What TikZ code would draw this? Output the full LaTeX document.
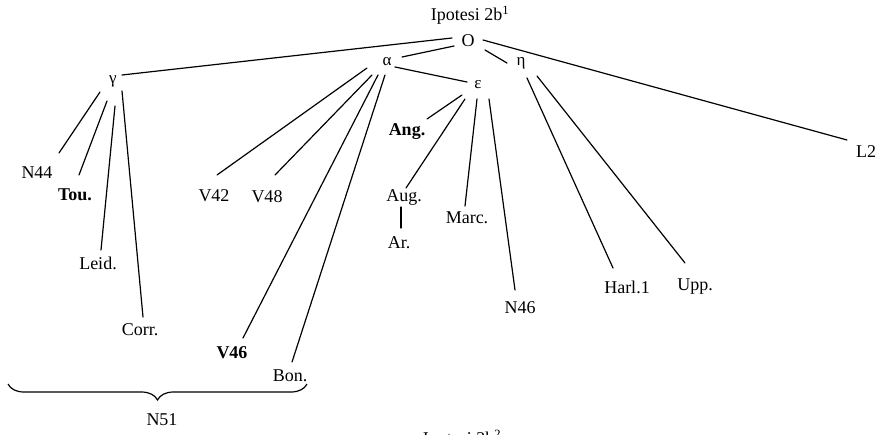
\documentclass[tikz,border=0pt]{standalone}
\usepackage{fontspec}
\setmainfont{Liberation Serif}
\usetikzlibrary{decorations.pathreplacing}
\begin{document}
\begin{tikzpicture}[x=1pt,y=-1pt,
  lbl/.style={font=\fontsize{18}{21}\selectfont, inner sep=3pt},
  blbl/.style={font=\fontsize{18}{21}\selectfont\bfseries, inner sep=3pt},
  grk/.style={font=\fontsize{17}{20}\selectfont, inner sep=4pt},
  edge/.style={draw, line width=1.2pt, line cap=round}]
\path[use as bounding box] (0,0) rectangle (883,434);
% title
\node[lbl] (title) at (470,15) {Ipotesi 2b\textsuperscript{1}};
% inner nodes
\node[lbl] (O) at (468,41) {O};
\node[grk] (gam) at (113,81) {γ};
\node[grk] (alp) at (387,62) {α};
\node[grk] (eps) at (478,85) {ε};
\node[grk] (eta) at (521,63) {η};
% leaves
\node[lbl] (n44) at (37,173) {N44};
\node[blbl] (tou) at (75,195) {Tou.};
\node[lbl] (leid) at (98,263) {Leid.};
\node[lbl] (corr) at (140,330) {Corr.};
\node[lbl] (v42) at (214,196) {V42};
\node[lbl] (v48) at (267,197) {V48};
\node[blbl] (v46) at (232,353) {V46};
\node[lbl] (bon) at (290,376) {Bon.};
\node[blbl] (ang) at (407,132) {Ang.};
\node[lbl] (aug) at (404,197) {Aug.};
\node[lbl] (ar) at (399,243) {Ar.};
\node[lbl] (marc) at (467,218) {Marc.};
\node[lbl] (n46) at (520,308) {N46};
\node[lbl] (harl) at (627,287) {Harl.1};
\node[lbl] (upp) at (695,287) {Upp.};
\node[lbl] (l2) at (866,152) {L2};
\node[lbl] (n51) at (162,420) {N51};
\node[lbl] (bottom) at (462,439) {Ipotesi 2b\textsuperscript{2}};
% brace
\coordinate (bl) at (8,384);
\coordinate (br) at (307,384);
\draw[line width=1.2pt, decorate, decoration={brace, mirror, amplitude=16pt, aspect=0.5}] (bl) -- (br);
% edges from O
\path[edge] ([shift={(-16,-3)}]O.center) -- ([shift={(9,-6)}]gam.center);
\path[edge] ([shift={(-14,5)}]O.center) -- ([shift={(15,-5)}]alp.center);
\path[edge] ([shift={(17,9)}]O.center) -- ([shift={(-14,0)}]eta.center);
\path[edge] ([shift={(15,-1)}]O.center) -- ([shift={(-19,-12)}]l2.center);
% edges from gamma
\path[edge] ([shift={(-13,11)}]gam.center) -- ([shift={(22,-20)}]n44.center);
\path[edge] ([shift={(-6,20)}]gam.center) -- ([shift={(4,-20)}]tou.center);
\path[edge] ([shift={(2,25)}]gam.center) -- ([shift={(3,-13)}]leid.center);
\path[edge] ([shift={(9,10)}]gam.center) -- ([shift={(3,-13)}]corr.center);
% edges from alpha
\path[edge] ([shift={(-20,6)}]alp.center) -- ([shift={(3,-21)}]v42.center);
\path[edge] ([shift={(-15,13)}]alp.center) -- ([shift={(8,-22)}]v48.center);
\path[edge] ([shift={(-9,13)}]alp.center) -- ([shift={(11,-15)}]v46.center);
\path[edge] ([shift={(-2,13)}]alp.center) -- ([shift={(2,-14)}]bon.center);
\path[edge] ([shift={(8,5)}]alp.center) -- ([shift={(-11,-3)}]eps.center);
% edges from epsilon
\path[edge] ([shift={(-16,10)}]eps.center) -- ([shift={(20,-13)}]ang.center);
\path[edge] ([shift={(-13,14)}]eps.center) -- ([shift={(2,-9)}]aug.center);
\path[edge] ([shift={(-1,14)}]eps.center) -- ([shift={(-2,-12)}]marc.center);
\path[edge] ([shift={(11,14)}]eps.center) -- ([shift={(-5,-18)}]n46.center);
\path[edge] ([shift={(-3,10)}]aug.center) -- ([shift={(2,-15)}]ar.center);
% edges from eta
\path[edge] ([shift={(6,15)}]eta.center) -- ([shift={(-14,-19)}]harl.center);
\path[edge] ([shift={(16,13)}]eta.center) -- ([shift={(-10,-24)}]upp.center);
\end{tikzpicture}
\end{document}
